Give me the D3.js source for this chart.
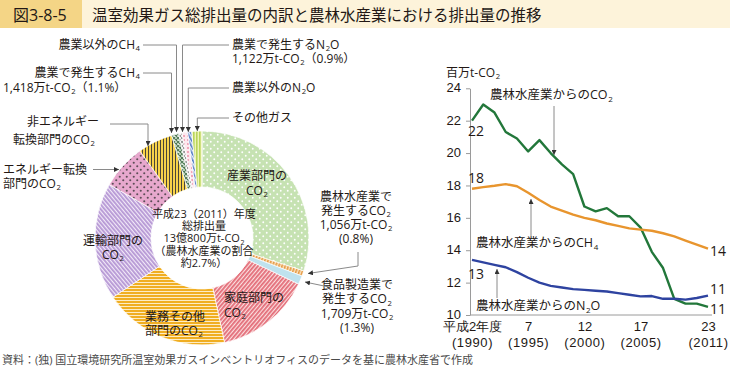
<!DOCTYPE html>
<html><head><meta charset="utf-8">
<script src="https://cdn.jsdelivr.net/npm/d3@7"></script>
<style>
body{margin:0;background:#fff;}
svg{display:block;font-family:"Open Sans","Noto Sans CJK JP",sans-serif;}
</style></head><body>
<svg id="c" width="730" height="369"></svg>
<script>
// ---------- data ----------
const titleNo = "図3-8-5";
const titleText = "温室効果ガス総排出量の内訳と農林水産業における排出量の推移";
const sourceText = "資料：(独) 国立環境研究所温室効果ガスインベントリオフィスのデータを基に農林水産省で作成";

// donut (万t-CO2), clockwise from top
const donutCategories = ["産業部門のCO₂","農林水産業で発生するCO₂","食品製造業で発生するCO₂","家庭部門のCO₂","業務その他部門のCO₂","運輸部門のCO₂","エネルギー転換部門のCO₂","非エネルギー転換部門のCO₂","農業で発生するCH₄","農業以外のCH₄","農業で発生するN₂O","農業以外のN₂O","その他ガス"];
const donutValues = [39200, 1056, 1709, 19000, 24900, 23100, 8900, 6900, 1418, 650, 1122, 800, 2000];
const donutCenterText = ["平成23（2011）年度","総排出量","13億800万t-CO₂","（農林水産業の割合","約2.7%）"];

// line chart (百万t-CO2)
const years = [1990,1991,1992,1993,1994,1995,1996,1997,1998,1999,2000,2001,2002,2003,2004,2005,2006,2007,2008,2009,2010,2011];
const co2 = [22.0,23.0,22.5,21.3,20.9,20.1,20.8,20.0,19.3,18.7,16.7,16.4,16.6,16.1,16.1,15.4,13.9,12.9,11.0,10.7,10.7,10.5];
const ch4 = [17.8,17.9,17.98,18.08,17.95,17.55,17.1,16.7,16.45,16.2,16.0,15.85,15.65,15.5,15.35,15.27,15.2,15.05,14.85,14.6,14.35,14.1];
const n2o = [13.4,13.25,13.1,12.95,12.65,12.3,12.0,11.8,11.7,11.6,11.55,11.5,11.45,11.35,11.25,11.15,11.17,11.0,11.0,10.95,11.05,11.2];
const yTicks = [10,12,14,16,18,20,22,24];
const xTickYears = [1990,1995,2000,2005,2011];
const xTickTop = ["平成2年度","7","12","17","23"];
const xTickBottom = ["(1990)","(1995)","(2000)","(2005)","(2011)"];
const seriesNames = ["農林水産業からのCO₂","農林水産業からのCH₄","農林水産業からのN₂O"];
const startLabels = ["22","18","13"];
const endLabels = ["11","14","11"];

// ---------- helpers ----------
const svg = d3.select("#c");
const TXT = "#231815";
// one <text> element per label; lines as absolutely positioned tspans
function label(g, arr, x, y, lh, fs, anchor, fill) {
  if (typeof arr === "string") arr = [arr];
  const t = g.append("text").attr("font-size", fs)
    .attr("text-anchor", anchor || "start").attr("fill", fill || TXT);
  arr.forEach((str, i) => {
    const parts = str.split(/([₂₄])/).filter(p => p);
    let shifted = false;
    parts.forEach((p, j) => {
      let s;
      if (p === "₂" || p === "₄") {
        s = t.append("tspan").attr("font-size", fs * 0.64).attr("dy", fs * 0.2).attr("dx", 0.6).text(p === "₂" ? "2" : "4");
        shifted = true;
      } else {
        s = t.append("tspan").text(p);
        if (shifted && j > 0) s.attr("dy", -fs * 0.2);
        shifted = false;
      }
      if (j === 0) s.attr("x", x).attr("y", y + i * lh);
    });
  });
  return t;
}

// ---------- defs / patterns ----------
const defs = svg.append("defs");
function pat(id, w, h, bg, draw, transform) {
  const p = defs.append("pattern").attr("id", id).attr("width", w).attr("height", h)
    .attr("patternUnits", "userSpaceOnUse");
  if (transform) p.attr("patternTransform", transform);
  p.append("rect").attr("width", w).attr("height", h).attr("fill", bg);
  draw(p);
}
pat("pInd", 7, 7, "#c6e2b2", p => {
  p.append("circle").attr("cx", 1.75).attr("cy", 1.75).attr("r", 0.95).attr("fill", "#fff");
  p.append("circle").attr("cx", 5.25).attr("cy", 5.25).attr("r", 0.95).attr("fill", "#fff");
});
pat("pAgr", 3, 3, "#fbe3c0", p => p.append("rect").attr("width", 1.6).attr("height", 3).attr("fill", "#e59a45"), "rotate(20)");
pat("pFood", 4, 4, "#bfe2ee", p => {});
pat("pHome", 3, 3, "#fbe0e0", p => p.append("rect").attr("width", 1.8).attr("height", 3).attr("fill", "#e36c78"), "rotate(40)");
pat("pBiz", 3, 3, "#fff4d8", p => p.append("rect").attr("width", 3).attr("height", 2.1).attr("fill", "#f0ae22"));
pat("pTrans", 3, 3, "#f2eaf8", p => p.append("rect").attr("width", 1.8).attr("height", 3).attr("fill", "#b597d4"), "rotate(-40)");
pat("pEne", 7, 7, "#e7a8cd", p => {
  p.append("circle").attr("cx", 1.75).attr("cy", 1.75).attr("r", 1.05).attr("fill", "#5d4d57");
  p.append("circle").attr("cx", 5.25).attr("cy", 5.25).attr("r", 1.05).attr("fill", "#5d4d57");
});
pat("pNonE", 3, 3, "#f7d24a", p => p.append("rect").attr("width", 1).attr("height", 3).attr("fill", "#4b4538"));
pat("pCH4a", 4, 4, "#e3ede0", p => {
  p.append("path").attr("d", "M0,0L4,4M4,0L0,4").attr("stroke", "#4f7a55").attr("stroke-width", 1.1);
});
pat("pCH4b", 4, 4, "#f0f0f0", p => {
  p.append("path").attr("d", "M0,0L4,4M4,0L0,4").attr("stroke", "#9a9a9a").attr("stroke-width", 1);
});
pat("pN2Oa", 4, 4, "#fde8ee", p => p.append("circle").attr("cx", 2).attr("cy", 2).attr("r", 1).attr("fill", "#ee8fa8"));
pat("pN2Ob", 3, 3, "#e8eef8", p => p.append("rect").attr("width", 1.6).attr("height", 3).attr("fill", "#4f79c4"), "rotate(-30)");
pat("pOth", 3, 3, "#eef4b8", p => p.append("rect").attr("width", 1.6).attr("height", 3).attr("fill", "#b9d55a"));
const fills = ["pInd","pAgr","pFood","pHome","pBiz","pTrans","pEne","pNonE","pCH4a","pCH4b","pN2Oa","pN2Ob","pOth"];

defs.append("marker").attr("id", "arr").attr("viewBox", "0 0 10 10").attr("refX", 10).attr("refY", 5)
  .attr("markerWidth", 5).attr("markerHeight", 5).attr("orient", "auto-start-reverse")
  .attr("markerUnits", "userSpaceOnUse")
  .append("path").attr("d", "M0,0L10,5L0,10Z").attr("fill", "#333");

// ---------- title bar ----------
svg.append("rect").attr("x", 0).attr("y", 0).attr("width", 730).attr("height", 28).attr("fill", "#fdf3da");
svg.append("rect").attr("x", 0).attr("y", 0).attr("width", 82).attr("height", 28).attr("fill", "#f4d586");
svg.append("text").attr("x", 13).attr("y", 21).attr("font-size", 16).attr("fill", TXT).text(titleNo);
svg.append("text").attr("x", 92).attr("y", 21).attr("font-size", 15.5).attr("fill", TXT).text(titleText);

// ---------- donut ----------
const cx = 202, cy = 238, R = 107, r0 = 51;
const dg = svg.append("g").attr("transform", `translate(${cx},${cy})`);
const pie = d3.pie().sort(null).value(d => d)(donutValues);
const arc = d3.arc().innerRadius(r0).outerRadius(R);
dg.selectAll("path.w").data(pie).join("path").attr("class", "w")
  .attr("d", arc).attr("fill", (d, i) => `url(#${fills[i]})`)
  .attr("stroke", "#fff").attr("stroke-width", 0.7);

const lab = svg.append("g");
const FS = 12;
// in-wedge labels
label(lab, ["産業部門の","CO₂"], 257, 180, 15, FS, "middle");
label(lab, ["家庭部門の","CO₂"], 224, 302, 15, FS, "start");
label(lab, ["業務その他","部門のCO₂"], 145, 321, 14, FS, "start");
label(lab, ["運輸部門の","CO₂"], 113, 245, 14, FS, "middle");
// center
label(lab, donutCenterText, 204, 218, 12.2, 11, "middle");

// leader lines
const lead = svg.append("g").attr("fill", "none").attr("stroke", "#8a8a8a").attr("stroke-width", 1);
function leader(pts) { lead.append("path").attr("d", d3.line()(pts)).attr("marker-end", "url(#arr)"); }
// top-left labels
label(lab, "農業以外のCH₄", 140, 49, 0, FS, "end");
leader([[143,45],[176.5,45],[176.5,132]]);
label(lab, ["農業で発生するCH₄"], 140, 77, 0, FS, "end");
label(lab, "1,418万t-CO₂（1.1%）", 3, 92, 0, FS, "start");
leader([[143,73],[171.5,73],[171.5,133]]);
// top-right labels
label(lab, ["農業で発生するN₂O","1,122万t-CO₂（0.9%）"], 232, 49, 14, FS, "start");
leader([[229,45],[182.5,45],[182.5,132]]);
label(lab, "農業以外のN₂O", 232, 92, 0, FS, "start");
leader([[229,88],[188.3,88],[188.3,132]]);
label(lab, "その他ガス", 232, 122, 0, FS, "start");
leader([[229,118],[197.3,118],[197.3,131]]);
// left
label(lab, "非エネルギー", 27, 126, 0, FS, "start");
label(lab, "転換部門のCO₂", 13, 144, 0, FS, "start");
leader([[110,124],[148,124],[148,146]]);
label(lab, ["エネルギー転換","部門のCO₂"], 3, 174, 14, FS, "start");
leader([[93,169.5],[119,169.5]]);
// right
label(lab, ["農林水産業で","発生するCO₂","1,056万t-CO₂","(0.8%)"], 356, 201, 14, FS, "middle");
leader([[358,252],[358,266],[308,273.5]]);
label(lab, ["食品製造業で","発生するCO₂","1,709万t-CO₂","(1.3%)"], 357, 289, 14.3, FS, "middle");
leader([[329,287],[305,282]]);

// ---------- line chart ----------
const xS = d3.scaleLinear().domain([1990, 2011]).range([472, 708]);
const yS = d3.scaleLinear().domain([10, 24]).range([315, 88.3]);
const ya = svg.append("g").attr("transform", "translate(470,0)")
  .call(d3.axisLeft(yS).tickValues(yTicks).tickSize(4).tickSizeOuter(0).tickPadding(5).tickFormat(d3.format("d")));
ya.select(".domain").attr("stroke", "#9a9a9a");
ya.selectAll(".tick line").attr("stroke", "#9a9a9a");
ya.selectAll(".tick text").attr("font-size", 13).attr("fill", TXT).attr("font-family", "inherit").attr("dy", "0.28em");

svg.append("line").attr("x1", 470).attr("x2", 712).attr("y1", 315).attr("y2", 315).attr("stroke", "#9a9a9a");
const xa = svg.append("g").attr("transform", "translate(0,315)")
  .call(d3.axisBottom(xS).tickValues(xTickYears).tickSize(0).tickPadding(7));
xa.select(".domain").remove();
xa.selectAll(".tick text").attr("font-size", 13).attr("fill", TXT).attr("font-family", "inherit")
  .each(function(d, i) {
    const t = d3.select(this); t.text(null);
    t.append("tspan").attr("x", 0).text(xTickTop[i]);
    t.append("tspan").attr("x", 0).attr("dy", 16).attr("letter-spacing", 0.6).text(xTickBottom[i]);
  });
label(svg, "百万t-CO₂", 446, 77, 0, 12, "start");

const line = d3.line().x((d, i) => xS(years[i])).y(d => yS(d));
const series = [co2, ch4, n2o];
const colors = ["#22773a", "#e8952e", "#2e43a0"];
svg.append("g").selectAll("path").data(series).join("path")
  .attr("d", line).attr("fill", "none").attr("stroke", (d, i) => colors[i])
  .attr("stroke-width", 2.4).attr("stroke-linejoin", "round");

// value labels
const vl = svg.append("g").attr("font-size", 14).attr("fill", TXT);
vl.append("text").attr("x", 468).attr("y", yS(co2[0]) + 15).text(startLabels[0]);
vl.append("text").attr("x", 468).attr("y", yS(ch4[0]) - 6).text(startLabels[1]);
vl.append("text").attr("x", 468).attr("y", yS(n2o[0]) + 19).text(startLabels[2]);
vl.append("text").attr("x", xS(2011) + 2).attr("y", yS(co2[21]) + 7).text(endLabels[0]);
vl.append("text").attr("x", xS(2011) + 2).attr("y", yS(ch4[21]) + 7).text(endLabels[1]);
vl.append("text").attr("x", xS(2011) + 2).attr("y", yS(n2o[21]) - 2).text(endLabels[2]);

// series annotations
label(svg, seriesNames[0], 490, 99, 0, 12.5, "start");
leader([[554,106],[554,155]]);
label(svg, seriesNames[1], 476, 247, 0, 12.5, "start");
leader([[531,236],[531,199]]);
label(svg, seriesNames[2], 476, 310, 0, 12.5, "start");
leader([[497,298],[497,269]]);

// source
svg.append("text").attr("x", 2).attr("y", 364).attr("font-size", 11).attr("fill", "#4a4a4a").text(sourceText);
</script>
</body></html>
